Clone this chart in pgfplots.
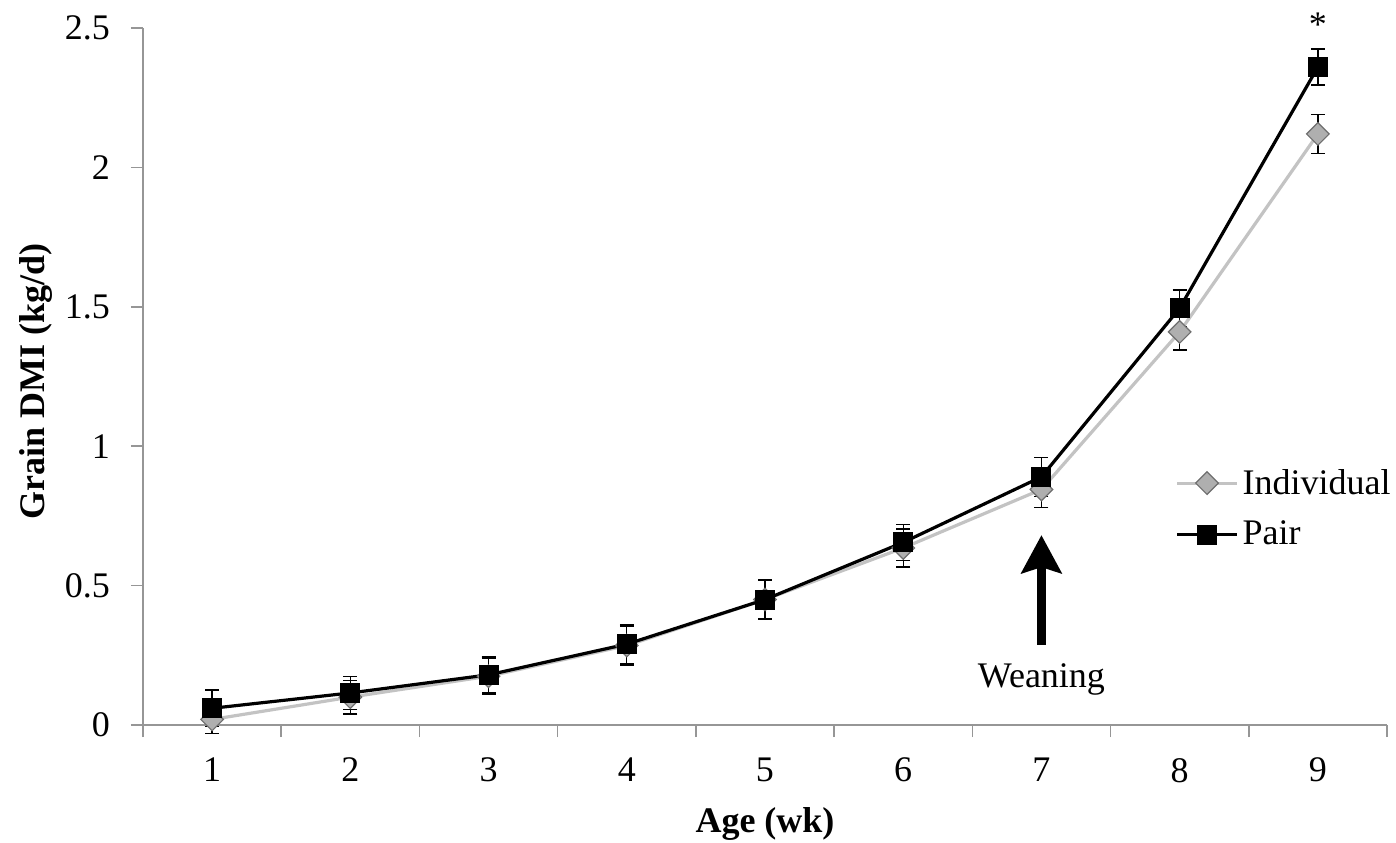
\documentclass[border=0pt]{standalone}
\usepackage{pgfplots}
\pgfplotsset{compat=1.18}
\usepackage{fontspec}
\setmainfont{Liberation Serif}
\usetikzlibrary{arrows.meta}
\definecolor{axgray}{RGB}{150,150,150}
\definecolor{indline}{RGB}{195,195,195}
\definecolor{indfill}{RGB}{175,175,175}
\definecolor{indedge}{RGB}{110,110,110}

\pgfplotstableread{
x y e
1 0.02 0.05
2 0.10 0.06
3 0.175 0.065
4 0.285 0.07
5 0.45 0.068
6 0.635 0.068
7 0.845 0.065
8 1.41 0.065
9 2.12 0.07
}\indiv

\pgfplotstableread{
x y e
1 0.06 0.065
2 0.115 0.06
3 0.18 0.065
4 0.29 0.07
5 0.45 0.07
6 0.655 0.065
7 0.89 0.07
8 1.495 0.065
9 2.36 0.065
}\pair

\begin{document}
\begin{tikzpicture}
\path[use as bounding box] (-71.5pt,-58.5pt) rectangle (626.5pt,362.5pt);
\begin{axis}[
  at={(0,0)}, anchor=south west,
  scale only axis, width=622pt, height=348.5pt,
  xmin=0.5, xmax=9.5, ymin=0, ymax=2.5,
  axis lines=left,
  axis line style={axgray, line width=1.2pt, -},
  clip=false,
  xtick={1,2,3,4,5,6,7,8,9},
  xticklabels={1,2,3,4,5,6,7,8,9},
  minor xtick={0.5,1.5,2.5,3.5,4.5,5.5,6.5,7.5,8.5,9.5},
  major x tick style={draw=none},
  ytick={0,0.5,1,1.5,2,2.5},
  yticklabels={0,0.5,1,1.5,2,2.5},
  tick align=outside,
  major tick length=6pt, minor tick length=6pt,
  tick style={axgray, line width=0.8pt},
  minor tick style={axgray, line width=0.8pt},
  tick label style={font=\fontsize{18}{21}\selectfont},
  xticklabel style={yshift=-7pt},
  yticklabel style={xshift=-7pt},
  /pgf/number format/assume math mode=true,
  xlabel={\textbf{Age (wk)}},
  ylabel={\textbf{Grain DMI (kg/d)}},
  every axis x label/.style={at={(axis description cs:0.5,-0.1535)}, anchor=base, font=\fontsize{18}{21}\selectfont},
  every axis y label/.style={at={(axis description cs:-0.086,0.4935)}, anchor=center, rotate=90, font=\fontsize{18}{21}\selectfont},
  legend style={at={(rel axis cs:0.8296,0.3106)}, anchor=west, draw=none, fill=none,
    inner sep=0pt, row sep=8pt, font=\fontsize{18}{21}\selectfont, nodes={inner sep=2pt}},
  legend cell align=left,
  legend image code/.code={\draw[mark repeat=2,mark phase=2,#1] plot coordinates {(0pt,0pt) (15pt,0pt) (30pt,0pt)};},
]
\addplot[indline, line width=1.6pt, mark=square*, mark size=4pt,
  mark options={rotate=45, fill=indfill, draw=indedge, line width=0.6pt, solid},
  error bars/.cd, y dir=both, y explicit,
  error bar style={black, line width=0.7pt, solid},
  error mark options={black, mark size=3.5pt, rotate=90, line width=0.7pt}]
  table[x=x, y=y, y error=e] {\indiv};
\addplot[black, line width=1.6pt, mark=square*, mark size=4.2pt,
  mark options={fill=black, draw=black, solid},
  error bars/.cd, y dir=both, y explicit,
  error bar style={black, line width=0.7pt, solid},
  error mark options={black, mark size=3.5pt, rotate=90, line width=0.7pt}]
  table[x=x, y=y, y error=e] {\pair};
\legend{Individual, Pair}
\draw[black, line width=4.5pt, -{Stealth[width=20pt,length=19pt,inset=3pt]}] (axis cs:7,0.287) -- (axis cs:7,0.681);
\node[anchor=base, font=\fontsize{18}{21}\selectfont] at (axis cs:7,0.133) {Weaning};
\node[anchor=base, font=\fontsize{18}{21}\selectfont] at (axis cs:9,2.47) {*};
\end{axis}
\end{tikzpicture}
\end{document}
